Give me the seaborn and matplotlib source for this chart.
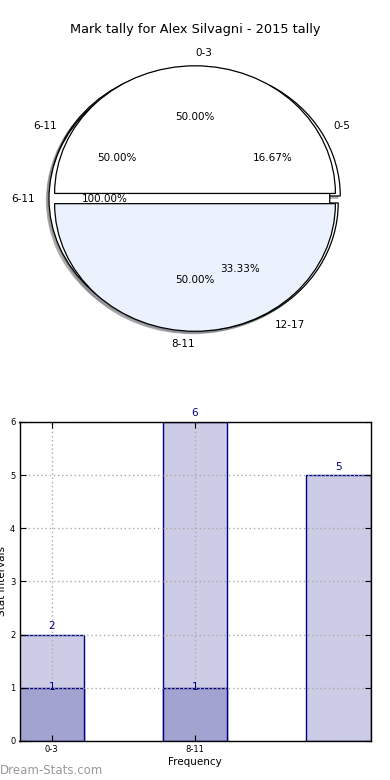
import matplotlib
matplotlib.use("Agg")
import matplotlib.pyplot as plt
import seaborn as sns

title = "Mark tally for Alex Silvagni - 2015 tally"

# three pies drawn on the same axes (as in the reference)
pie1_labels = ["0-5", "6-11", "12-17"]
pie1_values = [1, 3, 2]
pie2_labels = ["6-11"]
pie2_values = [1]
pie3_labels = ["0-3", "8-11"]
pie3_values = [1, 1]
pie3_colors = ["white", "#EBF1FD"]

# bar chart
bar_x = [0, 1, 2]
bar_values = [2, 6, 5]
bar2_x = [0, 1]
bar2_values = [1, 1]
tick_labels = ["0-3", "8-11"]
y_ticks = [0, 1, 2, 3, 4, 5, 6]

navy = "#000080"

fig = plt.figure(figsize=(3.9, 7.8), dpi=100)
fig.subplots_adjust(left=0.05, right=0.95, top=0.95, bottom=0.05, hspace=0.2)
ax1 = fig.add_subplot(2, 1, 1)
ax2 = fig.add_subplot(2, 1, 2)

pie_kw = dict(autopct="%1.2f%%", shadow=dict(ox=-0.013, oy=-0.013, shade=0.5),
              startangle=0,
              wedgeprops=dict(edgecolor="black", linewidth=0.9),
              textprops=dict(fontsize=7.5))
ax1.pie(pie1_values, labels=pie1_labels, colors=["white"] * 3,
        explode=[0.04] * len(pie1_values), **pie_kw)
ax1.pie(pie2_values, labels=pie2_labels, colors=["white"],
        explode=[0.04] * len(pie2_values), **pie_kw)
_, t3, _ = ax1.pie(pie3_values, labels=pie3_labels, colors=pie3_colors,
                   explode=[0.04] * len(pie3_values), **pie_kw)
t3[0].set_ha("left")
t3[1].set_ha("right")
ax1.set_aspect("auto")
ax1.set_xlim(-1.25, 1.25)
ax1.set_ylim(-1.25, 1.25)
ax1.set_title(title, fontsize=9.3, pad=4)

light = "#CCCCE6"
dark = "#A3A3D1"
sns.barplot(x=bar_x, y=bar_values, native_scale=True, width=0.45,
            color=light, saturation=1, edgecolor=navy, linewidth=1,
            errorbar=None, ax=ax2)
sns.barplot(x=bar2_x, y=bar2_values, native_scale=True, width=0.45,
            color=dark, saturation=1, edgecolor=navy, linewidth=1,
            errorbar=None, ax=ax2)

for x, v in zip(bar_x, bar_values):
    ax2.annotate(str(v), (x, v), xytext=(0, 2.5), textcoords="offset points",
                 ha="center", va="bottom", color=navy, fontsize=7.5)
for x, v in zip(bar2_x, bar2_values):
    ax2.annotate(str(v), (x, v), xytext=(0, 0.5), textcoords="offset points",
                 ha="center", va="center", color=navy, fontsize=7.5)

ax2.set_xlim(-0.225, 2.225)
ax2.set_ylim(0, 6)
ax2.set_yticks(y_ticks)
ax2.set_xticks(bar2_x)
ax2.set_xticklabels(tick_labels)
ax2.tick_params(direction="in", top=True, right=True, labelsize=6, length=4, pad=3)
ax2.grid(True, linestyle=(0, (1, 2)), color="#aaaaaa", linewidth=1)
ax2.set_axisbelow(False)
ax2.set_xlabel("Frequency", fontsize=7.5, labelpad=2)
ax2.set_ylabel("Stat Intervals", fontsize=7.5, labelpad=2)
for s in ax2.spines.values():
    s.set_linewidth(1)
    s.set_color("black")
    s.set_zorder(5)

fig.text(0.0, 10 / 780, "Dream-Stats.com", color="#999999", fontsize=8.5,
         ha="left", va="center")

fig.savefig("out.png", dpi=100)
